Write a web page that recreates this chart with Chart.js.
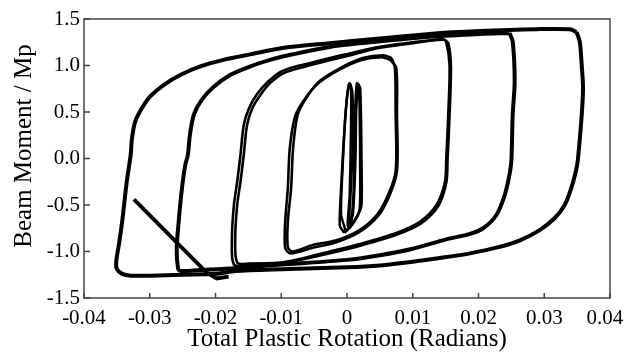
<!DOCTYPE html>
<html>
<head>
<meta charset="utf-8">
<script src="https://cdn.jsdelivr.net/npm/chart.js@4"></script>
<style>
  html, body { margin: 0; padding: 0; background: #fff; }
  canvas { display: block; }
</style>
</head>
<body>
<canvas id="chart" width="624" height="352"></canvas>
<script>
// axis ticks
const xTicks = [-0.04, -0.03, -0.02, -0.01, 0, 0.01, 0.02, 0.03, 0.04];
const xTickLabels = ["-0.04", "-0.03", "-0.02", "-0.01", "0", "0.01", "0.02", "0.03", "0.04\u2007"];
const yTicks = [-1.5, -1.0, -0.5, 0, 0.5, 1.0, 1.5];
const yTickLabels = ["-1.5", "-1.0", "-0.5", "0.0", "0.5", "1.0", "1.5"];

// hysteresis loops, [rotation, moment/Mp]
const loop035 = [
  [0.0349, 1.36], [0.0354, 1.26], [0.0357, 1.00], [0.0359, 0.76], [0.0357, 0.47],
  [0.0351, -0.02], [0.0348, -0.14], [0.0341, -0.32], [0.0331, -0.50], [0.0316, -0.64],
  [0.0293, -0.77], [0.0263, -0.88], [0.0232, -0.95], [0.0187, -1.02], [0.0151, -1.06],
  [0.0100, -1.11], [0.0050, -1.15], [0.0000, -1.17], [-0.0100, -1.19], [-0.0170, -1.21],
  [-0.0200, -1.24], [-0.0250, -1.25], [-0.0300, -1.26], [-0.0329, -1.26], [-0.0342, -1.24],
  [-0.0350, -1.19], [-0.0351, -1.11], [-0.0347, -0.93], [-0.0342, -0.68], [-0.0335, -0.25],
  [-0.0329, 0.04], [-0.0327, 0.22], [-0.0322, 0.40], [-0.0312, 0.54], [-0.0299, 0.67],
  [-0.0279, 0.79], [-0.0253, 0.90], [-0.0223, 0.99], [-0.0188, 1.06], [-0.0147, 1.12],
  [-0.0096, 1.19], [-0.0026, 1.24], [0.0050, 1.29], [0.0126, 1.34], [0.0202, 1.37],
  [0.0288, 1.39], [0.0339, 1.39], [0.0349, 1.36]
];
const loop025 = [
  [0.0247, 1.35], [0.0252, 1.26], [0.0255, 0.83], [0.0252, 0.47], [0.0250, -0.02],
  [0.0247, -0.18], [0.0240, -0.39], [0.0227, -0.61], [0.0207, -0.75], [0.0187, -0.81],
  [0.0151, -0.87], [0.0100, -0.97], [0.0050, -1.04], [0.0000, -1.09], [-0.0100, -1.14],
  [-0.0170, -1.18], [-0.0224, -1.20], [-0.0253, -1.21], [-0.0257, -1.18], [-0.0259, -0.97],
  [-0.0256, -0.68], [-0.0251, -0.32], [-0.0246, -0.07], [-0.0242, 0.04], [-0.0239, 0.25],
  [-0.0233, 0.47], [-0.0221, 0.63], [-0.0203, 0.77], [-0.0177, 0.90], [-0.0147, 0.99],
  [-0.0117, 1.06], [-0.0096, 1.10], [-0.0026, 1.20], [0.0050, 1.26], [0.0126, 1.31],
  [0.0202, 1.34], [0.0247, 1.35]
];
const loop016a = [
  [0.0146, 1.29], [0.0151, 1.25], [0.0156, 1.00], [0.0154, 0.47], [0.0151, 0.00],
  [0.0149, -0.25], [0.0136, -0.50], [0.0111, -0.68], [0.0075, -0.80], [0.0024, -0.91],
  [-0.0026, -1.00], [-0.0077, -1.09], [-0.0102, -1.12], [-0.0148, -1.13], [-0.0167, -1.12],
  [-0.0170, -0.86], [-0.0167, -0.50], [-0.0162, -0.25], [-0.0157, 0.04], [-0.0152, 0.36],
  [-0.0144, 0.54], [-0.0132, 0.68], [-0.0117, 0.81], [-0.0096, 0.92], [-0.0052, 1.01],
  [-0.0001, 1.10], [0.0050, 1.19], [0.0100, 1.24], [0.0146, 1.29]
];
const loop016b = [
  [0.0148, 1.28], [0.0154, 1.24], [0.0158, 1.00], [0.0156, 0.47], [0.0153, 0.00],
  [0.0151, -0.26], [0.0138, -0.52], [0.0112, -0.70], [0.0075, -0.82], [0.0024, -0.93],
  [-0.0026, -1.02], [-0.0077, -1.10], [-0.0102, -1.13], [-0.0150, -1.15], [-0.0172, -1.14],
  [-0.0175, -0.86], [-0.0172, -0.50], [-0.0167, -0.25], [-0.0162, 0.04], [-0.0157, 0.36],
  [-0.0149, 0.54], [-0.0137, 0.69], [-0.0121, 0.82], [-0.0099, 0.94], [-0.0054, 1.03],
  [-0.0002, 1.12], [0.0050, 1.20], [0.0100, 1.25], [0.0148, 1.28]
];
const loop007a = [
  [0.0068, 1.08], [0.0055, 1.11], [0.0024, 1.08], [-0.0011, 0.97], [-0.0042, 0.83],
  [-0.0062, 0.65], [-0.0075, 0.47], [-0.0082, 0.11], [-0.0085, -0.32], [-0.0090, -0.68],
  [-0.0090, -0.95], [-0.0083, -1.00], [-0.0052, -0.93], [-0.0016, -0.88], [0.0019, -0.77],
  [0.0045, -0.61], [0.0060, -0.43], [0.0073, -0.18], [0.0075, 0.04], [0.0074, 0.47],
  [0.0073, 0.97], [0.0068, 1.08]
];
const loop007b = [
  [0.0066, 1.06], [0.0053, 1.09], [0.0022, 1.06], [-0.0013, 0.95], [-0.0045, 0.80],
  [-0.0066, 0.62], [-0.0079, 0.45], [-0.0087, 0.11], [-0.0090, -0.32], [-0.0094, -0.68],
  [-0.0094, -0.96], [-0.0086, -1.02], [-0.0052, -0.96], [-0.0016, -0.90], [0.0019, -0.79],
  [0.0047, -0.62], [0.0062, -0.44], [0.0075, -0.18], [0.0077, 0.04], [0.0076, 0.47],
  [0.0075, 0.97], [0.0066, 1.06]
];
const elasticA = [
  [-0.0004, -0.80], [-0.0011, -0.72], [-0.0008, -0.20], [-0.0004, 0.30], [0.0000, 0.66],
  [0.0004, 0.81], [0.0008, 0.72], [0.0009, 0.20], [0.0006, -0.30], [0.0003, -0.70],
  [0.0007, -0.66], [0.0011, -0.20], [0.0012, 0.40], [0.0015, 0.81], [0.0020, 0.76],
  [0.0022, 0.00], [0.0022, -0.50], [0.0016, -0.62], [0.0005, -0.74], [-0.0004, -0.80]
];
const elasticB = [
  [-0.0002, -0.78], [-0.0009, -0.60], [-0.0006, 0.00], [-0.0002, 0.50], [0.0003, 0.80],
  [0.0006, 0.78], [0.0006, 0.30], [0.0004, -0.40], [0.0001, -0.72], [0.0009, -0.60],
  [0.0013, 0.00], [0.0014, 0.50], [0.0017, 0.80], [0.0019, 0.60], [0.0020, -0.20],
  [0.0019, -0.55], [0.0010, -0.68], [-0.0002, -0.78]
];
const finalUnload = [
  [-0.0324, -0.44], [-0.0213, -1.23], [-0.0198, -1.29], [-0.0180, -1.27]
];

function toPoints(arr) {
  return arr.map((p) => ({ x: p[0], y: p[1] }));
}

function lineSet(arr, width, tension) {
  return {
    data: toPoints(arr),
    showLine: true,
    borderColor: "#000",
    borderWidth: width,
    pointRadius: 0,
    tension: tension,
    fill: false,
  };
}

// box around the plot + inward tick marks
const frame = {
  id: "frame",
  afterDraw(chart) {
    const c = chart.ctx;
    const a = chart.chartArea;
    const xs = chart.scales.x;
    const ys = chart.scales.y;
    c.save();
    c.strokeStyle = "#444";
    c.lineWidth = 1.5;
    c.strokeRect(a.left, a.top, a.right - a.left, a.bottom - a.top);
    c.beginPath();
    xs.ticks.forEach((t) => {
      const px = xs.getPixelForValue(t.value);
      c.moveTo(px, a.bottom);
      c.lineTo(px, a.bottom - 5);
    });
    ys.ticks.forEach((t) => {
      const py = ys.getPixelForValue(t.value);
      c.moveTo(a.left, py);
      c.lineTo(a.left + 6, py);
    });
    c.stroke();
    c.restore();
  },
};

const serif = "'Liberation Serif', 'Times New Roman', serif";

new Chart(document.getElementById("chart"), {
  type: "scatter",
  data: {
    datasets: [
      lineSet(loop035, 4, 0.3),
      lineSet(loop025, 4, 0.3),
      lineSet(loop016a, 2.6, 0.3),
      lineSet(loop016b, 2.6, 0.3),
      lineSet(loop007a, 2.6, 0.3),
      lineSet(loop007b, 2.6, 0.3),
      lineSet(elasticA, 2.6, 0.2),
      lineSet(elasticB, 2.4, 0.2),
      lineSet(finalUnload, 3.8, 0),
    ],
  },
  options: {
    responsive: false,
    animation: false,
    layout: { padding: { top: 19, right: 14, left: 0, bottom: 0 } },
    plugins: { legend: { display: false }, tooltip: { enabled: false } },
    scales: {
      x: {
        type: "linear",
        min: -0.04,
        max: 0.04,
        afterBuildTicks: (s) => { s.ticks = xTicks.map((v) => ({ value: v })); },
        afterFit: (s) => { s.height = 54; s.paddingLeft = 0; s.paddingRight = 0; },
        grid: { display: false, drawTicks: false },
        border: { display: false },
        ticks: {
          color: "#000",
          font: { family: serif, size: 21 },
          padding: 8,
          maxRotation: 0,
          autoSkip: false,
          callback: (v, i) => xTickLabels[i],
        },
        title: {
          display: true,
          text: "Total Plastic Rotation (Radians)",
          color: "#000",
          font: { family: serif, size: 25 },
          padding: { top: 0, bottom: -2 },
        },
      },
      y: {
        type: "linear",
        min: -1.5,
        max: 1.5,
        afterBuildTicks: (s) => { s.ticks = yTicks.map((v) => ({ value: v })); },
        afterFit: (s) => { s.width = 84; s.paddingTop = 0; s.paddingBottom = 0; },
        grid: { display: false, drawTicks: false },
        border: { display: false },
        ticks: {
          color: "#000",
          font: { family: serif, size: 21 },
          padding: 4,
          autoSkip: false,
          callback: (v, i) => yTickLabels[i],
        },
        title: {
          display: true,
          text: "\u2002\u2002Beam Moment / Mp",
          color: "#000",
          font: { family: serif, size: 25 },
          padding: { top: 9, bottom: 0 },
        },
      },
    },
  },
  plugins: [frame],
});
</script>
</body>
</html>
